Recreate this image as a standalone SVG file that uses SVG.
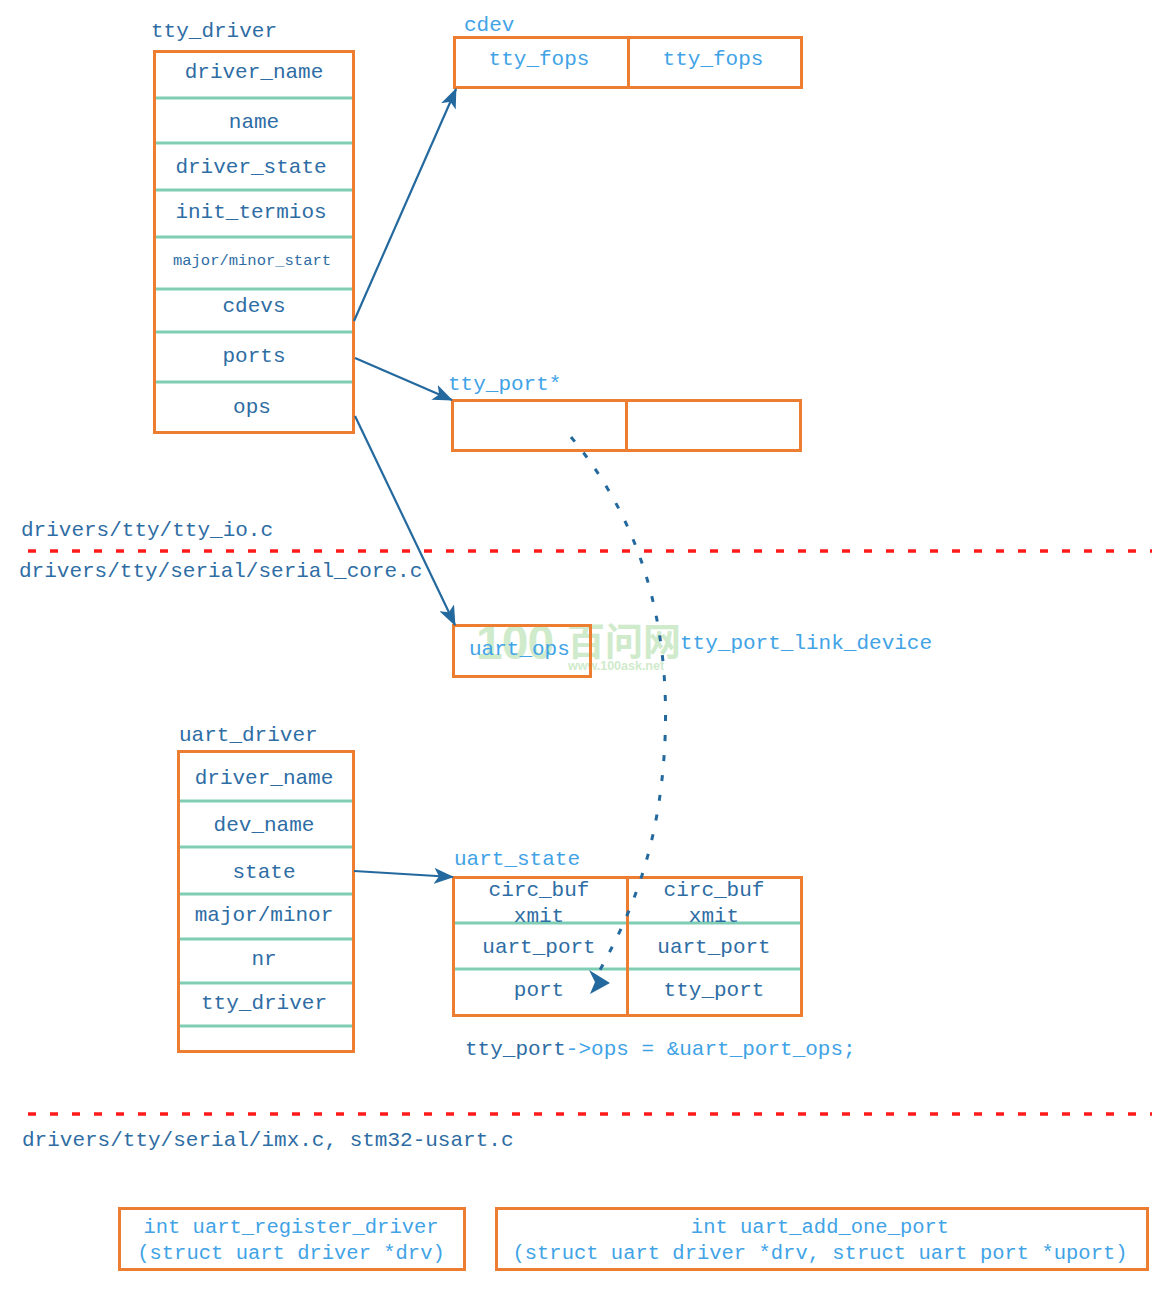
<svg xmlns="http://www.w3.org/2000/svg" width="1156" height="1290" viewBox="0 0 1156 1290">
<defs>
<style>
text{font-family:"Liberation Mono","DejaVu Sans Mono",monospace;font-size:21px}
.d{fill:#2E6DA4}
.l{fill:#41A3E6}
.c{text-anchor:middle}
.box{fill:none;stroke:#ED7D31;stroke-width:3}
.div{stroke:#7FCDB4;stroke-width:3}
.sep{stroke:#ED7D31;stroke-width:3}
.conn{fill:none;stroke:#24699E;stroke-width:2.2}
.red{stroke:#FF1A1A;stroke-width:3.5;stroke-dasharray:8 14}
.wm{fill:#BFE5BA;opacity:0.75}
</style>
<marker id="ah" viewBox="0 0 20 16" refX="19" refY="8" markerWidth="20" markerHeight="16" markerUnits="userSpaceOnUse" orient="auto">
<path d="M0,0 L20,8 L0,16 L5,8 Z" fill="#24699E"/>
</marker>
</defs>

<g id="watermark">
<text x="476" y="659" class="wm" style="font-family:'Liberation Sans','Noto Sans CJK SC',sans-serif;font-size:48px;font-weight:bold;letter-spacing:-1px">100</text>
<text x="567" y="655" class="wm" style="font-family:'Noto Sans CJK SC',sans-serif;font-size:38px;font-weight:bold">百问网</text>
<text x="568" y="670" class="wm" style="font-family:'Liberation Sans',sans-serif;font-size:12.5px;font-weight:bold">www.100ask.net</text>
</g>

<g id="separators">
<line x1="28" y1="551" x2="1152" y2="551" class="red"/>
<line x1="28" y1="1114" x2="1152" y2="1114" class="red"/>
<text x="21" y="536" class="d">drivers/tty/tty_io.c</text>
<text x="19" y="577" class="d">drivers/tty/serial/serial_core.c</text>
<text x="22" y="1146" class="d">drivers/tty/serial/imx.c, stm32-usart.c</text>
</g>

<g id="tty_driver">
<text x="151" y="37" class="d">tty_driver</text>
<rect x="154.5" y="51.5" width="199" height="381" class="box"/>
<line x1="156" y1="98" x2="352" y2="98" class="div"/>
<line x1="156" y1="143" x2="352" y2="143" class="div"/>
<line x1="156" y1="190" x2="352" y2="190" class="div"/>
<line x1="156" y1="237" x2="352" y2="237" class="div"/>
<line x1="156" y1="289" x2="352" y2="289" class="div"/>
<line x1="156" y1="332" x2="352" y2="332" class="div"/>
<line x1="156" y1="382" x2="352" y2="382" class="div"/>
<text x="254" y="78" class="d c">driver_name</text>
<text x="254" y="128" class="d c">name</text>
<text x="251" y="173" class="d c">driver_state</text>
<text x="251" y="218" class="d c">init_termios</text>
<text x="252" y="265" class="d c" style="font-size:15.5px">major/minor_start</text>
<text x="254" y="312" class="d c">cdevs</text>
<text x="254" y="362" class="d c">ports</text>
<text x="252" y="413" class="d c">ops</text>
</g>

<g id="cdev">
<text x="464" y="31" class="l">cdev</text>
<rect x="454.5" y="37.5" width="347" height="50" class="box"/>
<line x1="628.5" y1="37" x2="628.5" y2="88" class="sep"/>
<text x="539" y="65" class="l c">tty_fops</text>
<text x="713" y="65" class="l c">tty_fops</text>
</g>

<g id="tty_port">
<text x="448" y="390" class="l">tty_port*</text>
<rect x="452.5" y="400.5" width="348" height="50" class="box"/>
<line x1="626.5" y1="400" x2="626.5" y2="451" class="sep"/>
</g>

<g id="uart_ops">
<rect x="453.5" y="625.5" width="137" height="51" class="box"/>
<text x="469" y="655" class="l">uart_ops</text>
</g>

<g id="link_label">
<text x="680" y="649" class="l">tty_port_link_device</text>
</g>

<g id="uart_driver">
<text x="179" y="741" class="d">uart_driver</text>
<rect x="178.5" y="751.5" width="175" height="300" class="box"/>
<line x1="180" y1="801" x2="352" y2="801" class="div"/>
<line x1="180" y1="847" x2="352" y2="847" class="div"/>
<line x1="180" y1="894" x2="352" y2="894" class="div"/>
<line x1="180" y1="939" x2="352" y2="939" class="div"/>
<line x1="180" y1="983" x2="352" y2="983" class="div"/>
<line x1="180" y1="1026" x2="352" y2="1026" class="div"/>
<text x="264" y="784" class="d c">driver_name</text>
<text x="264" y="831" class="d c">dev_name</text>
<text x="264" y="878" class="d c">state</text>
<text x="264" y="921" class="d c">major/minor</text>
<text x="264" y="965" class="d c">nr</text>
<text x="264" y="1009" class="d c">tty_driver</text>
</g>

<g id="uart_state">
<text x="454" y="865" class="l">uart_state</text>
<rect x="453.5" y="877.5" width="348" height="138" class="box"/>
<line x1="455" y1="923" x2="800" y2="923" class="div"/>
<line x1="455" y1="969" x2="800" y2="969" class="div"/>
<line x1="627.5" y1="877" x2="627.5" y2="1016" class="sep"/>
<text x="539" y="896" class="d c">circ_buf</text>
<text x="539" y="922" class="d c">xmit</text>
<text x="714" y="896" class="d c">circ_buf</text>
<text x="714" y="922" class="d c">xmit</text>
<text x="539" y="953" class="d c">uart_port</text>
<text x="714" y="953" class="d c">uart_port</text>
<text x="539" y="996" class="d c">port</text>
<text x="714" y="996" class="d c">tty_port</text>
</g>

<g id="ops_note">
<text x="465" y="1055"><tspan class="d">tty_port</tspan><tspan class="l">-&gt;ops = &amp;uart_port_ops;</tspan></text>
</g>

<g id="func_register">
<rect x="119.5" y="1208.5" width="345" height="61" class="box"/>
<text x="291" y="1233" class="l c" style="font-size:20.5px">int uart_register_driver</text>
<text x="291" y="1259" class="l c" style="font-size:20.5px">(struct uart driver *drv)</text>
</g>

<g id="func_add_port">
<rect x="496.5" y="1208.5" width="651" height="61" class="box"/>
<text x="820" y="1233" class="l c" style="font-size:20.5px">int uart_add_one_port</text>
<text x="820" y="1259" class="l c" style="font-size:20.5px">(struct uart driver *drv, struct uart port *uport)</text>
</g>

<g id="connectors">
<line x1="354" y1="321" x2="456" y2="89" class="conn" marker-end="url(#ah)"/>
<line x1="355" y1="358" x2="452" y2="400" class="conn" marker-end="url(#ah)"/>
<line x1="355" y1="416" x2="455" y2="625" class="conn" marker-end="url(#ah)"/>
<line x1="354" y1="871" x2="453" y2="877" class="conn" marker-end="url(#ah)"/>
<path d="M571,437 C640,520 670,620 665,740 C660,850 630,915 600,970" fill="none" stroke="#24699E" stroke-width="3" stroke-dasharray="6 14"/>
<path d="M589,970 L610,983 L590,994 L595,982 Z" fill="#24699E"/>
</g>
</svg>
